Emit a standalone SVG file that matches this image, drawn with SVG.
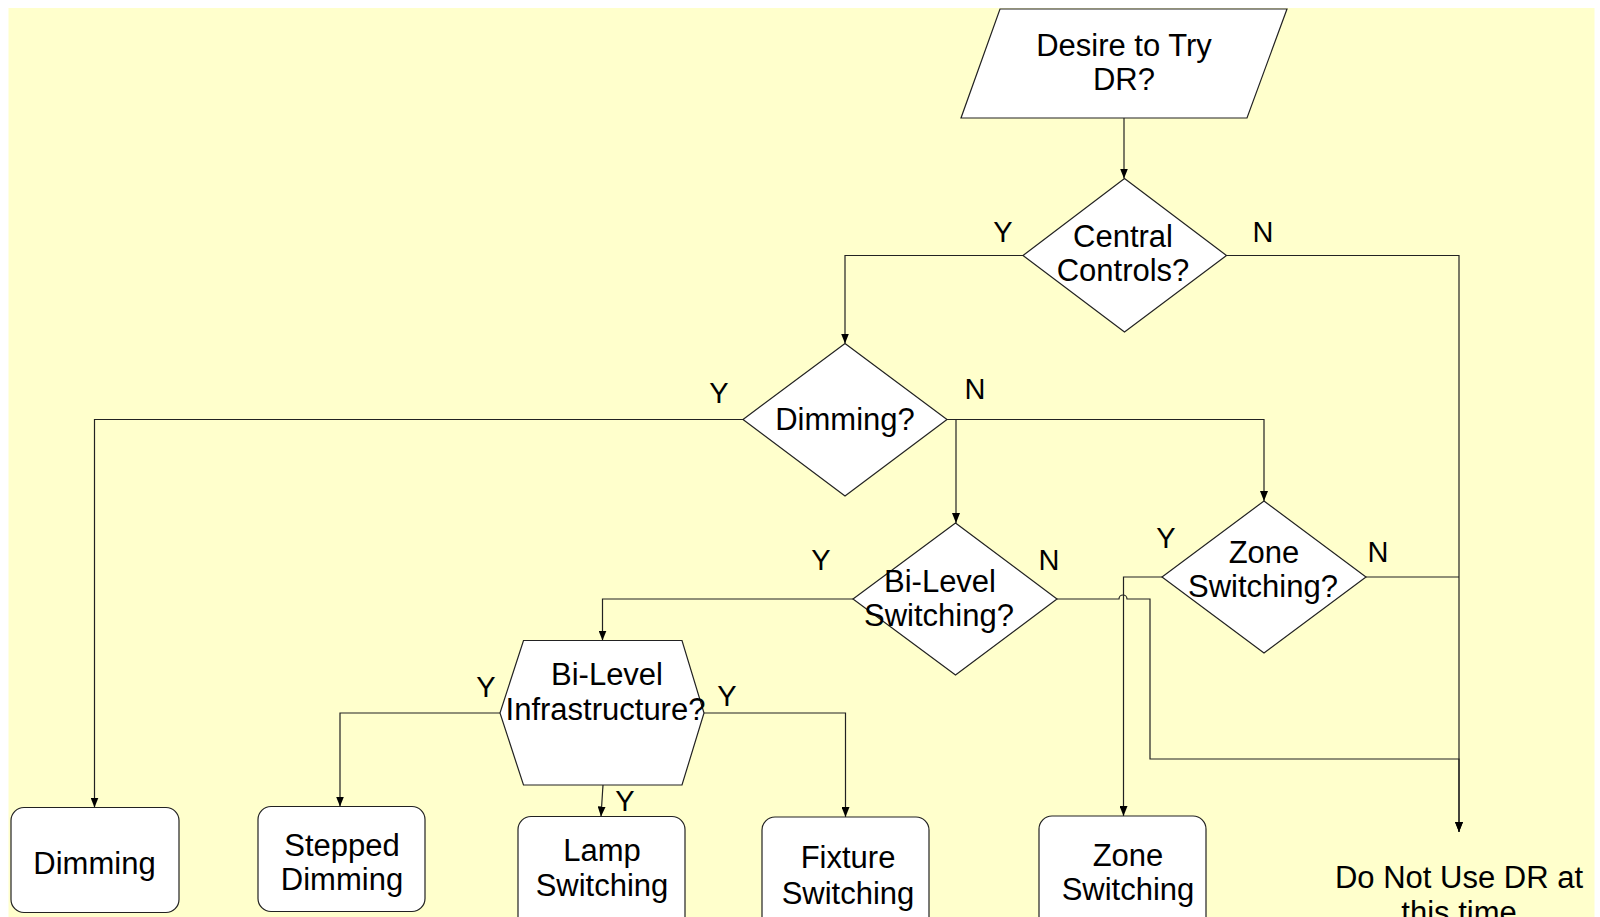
<svg xmlns="http://www.w3.org/2000/svg" width="1600" height="917" viewBox="0 0 1600 917">
<defs>
<marker id="arr" markerUnits="userSpaceOnUse" markerWidth="10" markerHeight="8" refX="10" refY="4" orient="auto">
<path d="M0,0 L10,4 L0,8 z" fill="#000"/>
</marker>
<style>
.shape{fill:#fff;stroke:#222;stroke-width:1.2}
.t{font-family:"Liberation Sans",Arial,sans-serif;font-size:31px;fill:#000;text-anchor:middle}
.lbl{font-family:"Liberation Sans",Arial,sans-serif;font-size:29px;fill:#000;text-anchor:middle}
.c{fill:none;stroke:#222;stroke-width:1.2}
.ca{fill:none;stroke:#222;stroke-width:1.2;marker-end:url(#arr)}
</style>
</defs>
<rect x="0" y="0" width="1600" height="917" fill="#fff"/>
<rect x="8.5" y="8" width="1586" height="909" fill="#FFFFCC"/>

<g id="connectors">
<path class="ca" d="M1124,118 V178.5"/>
<path class="ca" d="M1023,255.5 H845 V343.5"/>
<path class="ca" d="M1226.5,255.5 H1459 V832"/>
<path class="ca" d="M743,419.5 H94.5 V807.5"/>
<path class="ca" d="M947,419.5 H1264 V501"/>
<path class="ca" d="M956,419.5 V523"/>
<path class="ca" d="M853,599 H602.5 V640.5"/>
<path class="ca" d="M1057,599 H1119 A4,4 0 0 1 1127,599 H1150 V759 H1459 V832"/>
<path class="ca" d="M1162,577 H1123.5 V816"/>
<path class="c" d="M1366,577 H1459"/>
<path class="ca" d="M500,713 H340 V806.5"/>
<path class="ca" d="M704,713 H845.5 V817"/>
<path class="ca" d="M603,785 L601,816.5"/>
</g>

<g id="labels">
<text class="lbl" x="1003" y="242">Y</text>
<text class="lbl" x="1263" y="242">N</text>
<text class="lbl" x="719" y="403">Y</text>
<text class="lbl" x="975" y="399">N</text>
<text class="lbl" x="821" y="570">Y</text>
<text class="lbl" x="1049" y="570">N</text>
<text class="lbl" x="1166" y="548">Y</text>
<text class="lbl" x="1378" y="562">N</text>
<text class="lbl" x="486" y="697">Y</text>
<text class="lbl" x="727" y="706">Y</text>
<text class="lbl" x="625" y="811">Y</text>
</g>

<g id="desire">
<polygon class="shape" points="1000,9 1287,9 1247,118 961,118"/>
<text class="t" x="1124" y="56">Desire to Try</text>
<text class="t" x="1124" y="90">DR?</text>
</g>

<g id="central">
<polygon class="shape" points="1124.5,178.5 1226.5,255.5 1124.5,332 1023,255.5"/>
<text class="t" x="1123" y="247">Central</text>
<text class="t" x="1123" y="281">Controls?</text>
</g>

<g id="dimmingq">
<polygon class="shape" points="845,343.5 947,419.5 845,496 743,419.5"/>
<text class="t" x="845" y="430">Dimming?</text>
</g>

<g id="bilevelq">
<polygon class="shape" points="955.5,523 1057,599 955.5,675 853,599"/>
<text class="t" x="940" y="592">Bi-Level</text>
<text class="t" x="939" y="626">Switching?</text>
</g>

<g id="zoneq">
<polygon class="shape" points="1264,501 1366,577 1264,653 1162,577"/>
<text class="t" x="1264" y="563">Zone</text>
<text class="t" x="1263" y="597">Switching?</text>
</g>

<g id="infra">
<polygon class="shape" points="523.5,640.5 682,640.5 704,713 682,785 523.5,785 500,713"/>
<text class="t" x="607" y="685">Bi-Level</text>
<text class="t" x="605.5" y="720">Infrastructure?</text>
</g>

<g id="dimming">
<rect class="shape" x="11" y="807.5" width="168" height="105" rx="13"/>
<text class="t" x="94.5" y="874">Dimming</text>
</g>

<g id="stepped">
<rect class="shape" x="258" y="806.5" width="167" height="105" rx="13"/>
<text class="t" x="342" y="856">Stepped</text>
<text class="t" x="342" y="890">Dimming</text>
</g>

<g id="lamp">
<rect class="shape" x="518" y="816.5" width="167" height="120" rx="13"/>
<text class="t" x="602" y="861">Lamp</text>
<text class="t" x="602" y="896">Switching</text>
</g>

<g id="fixture">
<rect class="shape" x="762" y="817" width="167" height="120" rx="13"/>
<text class="t" x="848" y="868">Fixture</text>
<text class="t" x="848" y="904">Switching</text>
</g>

<g id="zone">
<rect class="shape" x="1039" y="816" width="167" height="120" rx="13"/>
<text class="t" x="1128" y="866">Zone</text>
<text class="t" x="1128" y="900">Switching</text>
</g>

<g id="donot">
<text class="t" x="1459" y="888">Do Not Use DR at</text>
<text class="t" x="1459" y="923">this time</text>
</g>
</svg>
